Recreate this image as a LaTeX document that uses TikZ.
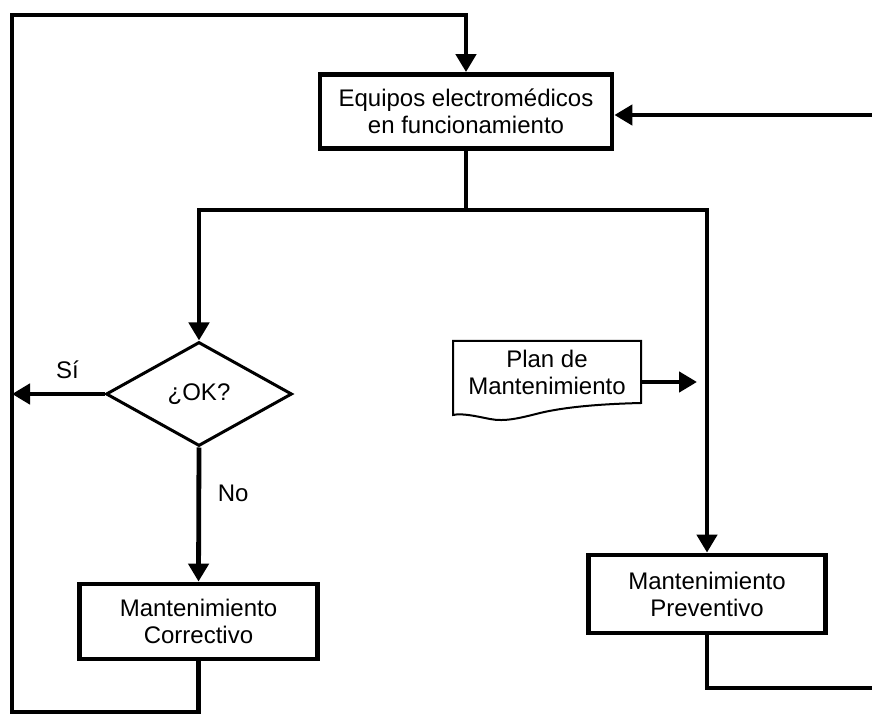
\documentclass[tikz,border=0pt]{standalone}
\usepackage{fontspec}
\setmainfont{Liberation Sans}
\usetikzlibrary{shapes.geometric,arrows.meta}

\begin{document}
\begin{tikzpicture}
  [x=0.5pt,y=-0.5pt,line width=2.4pt,
   every node/.style={font=\fontsize{12pt}{13.5pt}\selectfont,align=center},
   box/.style={draw,rectangle,inner sep=0pt},
   arr/.style={-{Triangle[length=9pt,width=10pt]}}]
\useasboundingbox (0,0) rectangle (872,715);

\node (eq)[box,minimum width=146pt,minimum height=37pt] at (466,111.5) {Equipos electromédicos\\en funcionamiento};
\node (ok)[draw,diamond,line width=1.5pt,minimum width=93pt,minimum height=52pt,inner sep=0pt] at (199,394) {¿OK?};
\node (corr)[box,minimum width=119pt,minimum height=37.5pt] at (198.5,621.5) {Mantenimiento\\Correctivo};
\node (prev)[box,minimum width=118.5pt,minimum height=39pt] at (707,594) {Mantenimiento\\Preventivo};
\node (plan) at (547,372) {Plan de\\Mantenimiento};

% documento
\draw[line width=1pt] (453,341) -- (641,341) -- (641,403)
  .. controls (600,404) and (565,407) .. (540,413)
  .. controls (520,418) and (505,422) .. (490,419)
  .. controls (475,416) and (462,413) .. (453,415) -- cycle;

\coordinate (sp) at (466,210);
\coordinate (sy) at (12,394);
\coordinate (c1) at (12,712);
\coordinate (c2) at (12,15);
\coordinate (r1) at (872,688);
\coordinate (r2) at (872,115);
\coordinate (pe) at (641,382);
\coordinate (pin) at (697,382);

\draw (eq.south) -- (sp);
\draw[arr] (sp) -| (ok.north);
\draw[arr] (sp) -| (prev.north);
\draw[arr] (ok.west) -- node[pos=0.4,above=3pt]{Sí} (sy);
\draw[arr] (ok.south) -- node[pos=0.34,right=5pt]{No} (corr.north);
\draw[arr] (corr.south) |- (c1) -- (c2) -| (eq.north);
\draw (prev.south) |- (r1);
\draw[arr] (r2) -- (eq.east |- r2);
\draw[arr] (pe) -- (pin);

\end{tikzpicture}
\end{document}
